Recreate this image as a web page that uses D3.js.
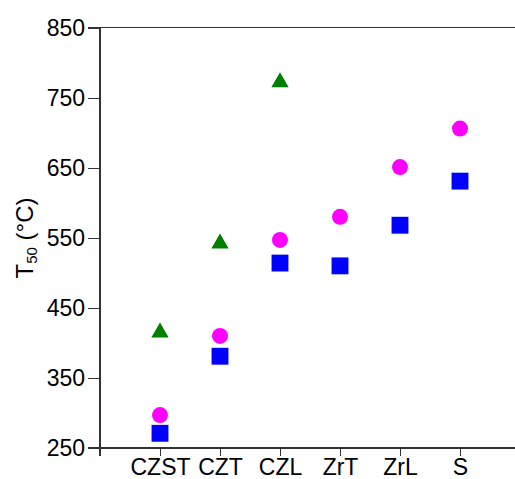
<!DOCTYPE html>
<html>
<head>
<meta charset="utf-8">
<script src="https://cdn.jsdelivr.net/npm/d3@7"></script>
<style>
  html, body { margin: 0; padding: 0; background: #fff; }
  svg text { font-family: "Liberation Sans", Arial, sans-serif; fill: #000; }
  .axis path.domain { display: none; }
  .axis line, .frame { stroke: #333; stroke-width: 1.3; shape-rendering: crispEdges; }
</style>
</head>
<body>
<svg id="chart" width="515" height="479"></svg>
<script>
var categories = ['CZST', 'CZT', 'CZL', 'ZrT', 'ZrL', 'S']
var squareValues = [271, 381, 514, 510, 568, 631]
var circleValues = [297, 410, 547, 580, 651, 706]
var triangleValues = [415, 542, 772, null, null, null]
var yTicks = [250, 350, 450, 550, 650, 750, 850]

var svg = d3.select('#chart')

var x = d3.scaleLinear().domain([0, 7]).range([100, 520])
var y = d3.scaleLinear().domain([250, 850]).range([448, 27.7])

// frame lines
svg.append('line').attr('class', 'frame')
  .attr('x1', 88).attr('x2', 515).attr('y1', y(850)).attr('y2', y(850))
svg.append('line').attr('class', 'frame')
  .attr('x1', 88).attr('x2', 515).attr('y1', y(250)).attr('y2', y(250))
svg.append('line').attr('class', 'frame')
  .attr('x1', x(0)).attr('x2', x(0)).attr('y1', y(850)).attr('y2', y(250) + 8)

svg.append('g')
  .attr('class', 'axis')
  .attr('transform', 'translate(' + x(0) + ',0)')
  .call(d3.axisLeft(y).tickValues(yTicks).tickSize(12).tickPadding(3).tickFormat(d3.format('d')))
  .selectAll('text').style('font-size', '23px')

svg.append('g')
  .attr('class', 'axis')
  .attr('transform', 'translate(0,' + y(250) + ')')
  .call(d3.axisBottom(x).tickValues([1, 2, 3, 4, 5, 6]).tickSize(8).tickPadding(3)
    .tickFormat(function (d) { return categories[d - 1] }))
  .selectAll('text').style('font-size', '23px')

// y label
var label = svg.append('text')
  .attr('transform', 'translate(33,238) rotate(-90)')
  .attr('text-anchor', 'middle')
  .style('font-size', '24px')
label.append('tspan').text('T')
label.append('tspan').attr('dy', 4).style('font-size', '15px').text('50')
label.append('tspan').attr('dy', -4).text(' (°C)')

function drawSeries(values, symbolType, size, color) {
  svg.append('g')
    .selectAll('path')
    .data(values.map(function (v, i) { return { i: i + 1, v: v } }).filter(function (d) { return d.v != null }))
    .enter().append('path')
    .attr('d', d3.symbol().type(symbolType).size(size))
    .attr('transform', function (d) { return 'translate(' + x(d.i) + ',' + y(d.v) + ')' })
    .attr('fill', color)
}

drawSeries(triangleValues, d3.symbolTriangle, 130, '#007f00')
drawSeries(circleValues, d3.symbolCircle, 201, '#ff00ff')
drawSeries(squareValues, d3.symbolSquare, 285, '#0000ff')
</script>
</body>
</html>
